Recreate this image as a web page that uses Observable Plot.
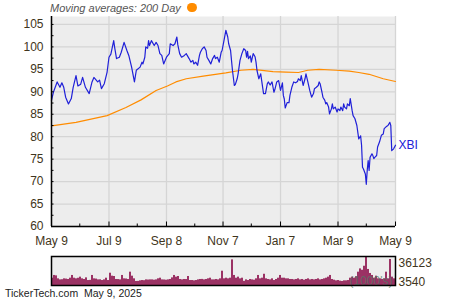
<!DOCTYPE html>
<html><head><meta charset="utf-8">
<script src="https://cdn.jsdelivr.net/npm/d3@7"></script>
<script src="https://cdn.jsdelivr.net/npm/@observablehq/plot@0.6"></script>
<style>
body{margin:0;background:#fff;}
#wrap{position:relative;width:450px;height:300px;overflow:hidden;font-family:"Liberation Sans",Arial,sans-serif;}
#wrap svg{position:absolute;left:0;}
.title{position:absolute;left:50px;top:3px;font-size:11px;line-height:11px;font-style:italic;color:#555;white-space:nowrap;}
.dot{position:absolute;left:187px;top:2.5px;width:9.5px;height:9.5px;border-radius:50%;background:#ff8c00;}
.footer{position:absolute;left:5px;top:288px;font-size:10.5px;line-height:10.5px;color:#222;white-space:pre;}
</style></head>
<body><div id="wrap">
<div class="title">Moving averages: 200 Day</div>
<div class="dot"></div>
<div class="footer">TickerTech.com  May 9, 2025</div>
</div>
<script>
const priceDates = ["2024-05-09","2024-05-11","2024-05-15","2024-05-18","2024-05-20","2024-05-22","2024-05-24","2024-05-27","2024-05-30","2024-06-01",
"2024-06-04","2024-06-06","2024-06-09","2024-06-11","2024-06-14","2024-06-18","2024-06-21","2024-06-23","2024-06-27","2024-06-29",
"2024-07-01","2024-07-04","2024-07-07","2024-07-09","2024-07-11","2024-07-14","2024-07-15","2024-07-17","2024-07-20","2024-07-22",
"2024-07-25","2024-07-28","2024-07-30","2024-08-02","2024-08-05","2024-08-07","2024-08-11","2024-08-13","2024-08-14","2024-08-16",
"2024-08-17","2024-08-19","2024-08-20","2024-08-21","2024-08-23","2024-08-26","2024-08-28","2024-08-30","2024-09-01","2024-09-03",
"2024-09-05","2024-09-08","2024-09-11","2024-09-12","2024-09-15","2024-09-17","2024-09-19","2024-09-20","2024-09-22","2024-09-24",
"2024-09-27","2024-09-29","2024-09-30","2024-10-02","2024-10-04","2024-10-06","2024-10-07","2024-10-09","2024-10-11","2024-10-13",
"2024-10-14","2024-10-16","2024-10-18","2024-10-20","2024-10-21","2024-10-23","2024-10-25","2024-10-27","2024-10-29","2024-10-30",
"2024-11-01","2024-11-03","2024-11-05","2024-11-06","2024-11-08","2024-11-10","2024-11-12","2024-11-13","2024-11-15","2024-11-16",
"2024-11-17","2024-11-19","2024-11-20","2024-11-22","2024-11-23","2024-11-25","2024-11-27","2024-11-29","2024-12-01","2024-12-02",
"2024-12-03","2024-12-04","2024-12-06","2024-12-07","2024-12-09","2024-12-11","2024-12-12","2024-12-13","2024-12-15","2024-12-17",
"2024-12-18","2024-12-20","2024-12-22","2024-12-24","2024-12-25","2024-12-27","2024-12-29","2024-12-31","2025-01-01","2025-01-03",
"2025-01-05","2025-01-07","2025-01-09","2025-01-10","2025-01-11","2025-01-12","2025-01-14","2025-01-16","2025-01-17","2025-01-19",
"2025-01-21","2025-01-23","2025-01-25","2025-01-26","2025-01-28","2025-01-29","2025-01-31","2025-02-02","2025-02-03","2025-02-05",
"2025-02-07","2025-02-09","2025-02-11","2025-02-12","2025-02-14","2025-02-16","2025-02-17","2025-02-18","2025-02-20","2025-02-21",
"2025-02-23","2025-02-24","2025-02-25","2025-02-27","2025-02-28","2025-03-02","2025-03-03","2025-03-04","2025-03-06","2025-03-08",
"2025-03-09","2025-03-11","2025-03-12","2025-03-14","2025-03-15","2025-03-16","2025-03-18","2025-03-19","2025-03-21","2025-03-22",
"2025-03-24","2025-03-25","2025-03-27","2025-03-29","2025-03-31","2025-04-02","2025-04-03","2025-04-04","2025-04-05","2025-04-07",
"2025-04-08","2025-04-09","2025-04-10","2025-04-11","2025-04-12","2025-04-14","2025-04-15","2025-04-16","2025-04-17","2025-04-19",
"2025-04-20","2025-04-22","2025-04-24","2025-04-26","2025-04-27","2025-04-29","2025-05-01","2025-05-03","2025-05-04","2025-05-05",
"2025-05-07","2025-05-09"];
const priceValues = [88.1,89.9,92.2,91.0,92.0,91.0,88.8,87.3,88.5,91.0,
93.6,91.3,91.7,93.2,91.0,89.6,92.2,93.2,92.2,92.6,
90.7,91.8,94.4,97.7,98.4,101.4,99.9,97.4,97.7,98.8,
101.0,99.2,98.1,95.5,92.2,94.8,95.5,96.6,96.2,97.7,
100.0,99.7,101.4,100.3,101.4,100.3,101.0,100.3,98.5,98.1,
96.2,97.7,98.5,100.7,100.3,100.7,102.2,100.5,98.5,97.7,
98.1,98.5,98.1,97.4,96.6,97.0,96.2,96.6,95.9,98.1,
98.8,99.6,100.0,99.2,97.7,97.0,96.2,97.4,98.1,97.4,
97.7,96.6,98.8,99.2,101.4,103.7,102.2,100.7,99.2,97.0,
94.8,91.4,91.6,92.9,94.0,97.0,98.5,99.6,99.2,97.7,
99.0,97.4,98.0,96.6,98.5,97.8,96.6,94.8,92.9,94.0,
92.5,89.6,89.6,91.8,92.2,91.5,92.2,89.9,90.5,92.2,
92.5,90.3,92.0,89.2,88.4,86.4,87.6,87.6,89.2,91.0,
92.2,92.0,92.3,92.9,92.5,93.6,91.4,92.9,94.0,92.2,
90.3,88.8,89.6,90.7,91.0,91.4,92.2,91.8,89.9,88.8,
88.1,87.3,87.6,86.6,85.1,86.2,87.3,86.2,86.6,85.5,
86.2,85.8,86.6,85.8,87.3,86.6,86.2,87.3,86.9,88.5,
85.8,84.7,84.0,82.5,79.5,80.2,78.1,73.2,72.8,71.7,
69.4,72.5,74.7,72.5,75.4,76.2,75.8,75.1,75.4,75.8,
77.7,78.8,80.3,80.6,81.8,82.2,82.5,83.2,82.5,76.9,
77.3,78.1];
const maDates = ["2024-05-09","2024-06-04","2024-07-07","2024-07-27","2024-08-12","2024-08-28","2024-09-09","2024-09-18","2024-09-29","2024-10-17",
"2024-11-10","2024-11-26","2024-12-09","2024-12-30","2025-01-13","2025-01-26","2025-02-05","2025-02-17","2025-03-07","2025-03-21",
"2025-03-31","2025-04-11","2025-04-26","2025-05-09"];
const maValues = [82.4,83.2,84.7,86.5,88.2,90.3,91.3,92.2,92.9,93.5,
94.2,94.8,95.0,94.5,94.4,94.3,94.8,95.0,94.8,94.6,
94.3,93.9,92.9,92.3];
const volumeValues = [9100,12500,12000,8300,7000,7200,8300,8000,7500,9100,
12500,9100,8300,9000,10400,8300,7500,9500,6200,6400,
12500,8300,8000,7000,7100,6200,7000,9100,6200,15300,
11600,11200,7500,7400,7000,12500,8300,8100,7500,16600,
11600,8300,5000,5100,5800,6200,6000,7000,6800,7000,
7000,6600,7000,8300,9100,7000,6900,6600,7000,7500,
9500,12500,10400,11200,7500,7000,7500,7400,11200,6200,
6200,5800,6200,7000,7500,7600,7000,7500,8300,9100,
7000,7000,7500,7000,8300,17800,8300,9100,8300,9100,
31900,12500,9100,10400,8300,9100,5200,7000,6200,7500,
7000,6600,8300,12500,8300,9100,14000,8300,7500,7000,
8300,6200,7500,9100,12500,9100,9100,8300,8300,7500,
7500,7000,7500,8300,7000,7500,6600,7500,8300,7000,
7500,7000,7500,8300,7000,7500,8300,9100,10400,12500,
7500,6600,5800,6200,5400,5000,5800,5800,6200,9100,
10400,9100,11000,16600,20700,19000,24000,36123,20000,15000,
12500,9100,11600,8300,8300,7500,8300,16600,8300,32400,
10400,8300];
const volumeLabels = [36123, 3540];
const xTickDates = ["2024-05-09","2024-07-09","2024-09-08","2024-11-07","2025-01-07","2025-03-09","2025-05-09"];
const xTickLabels = ["May 9","Jul 9","Sep 8","Nov 7","Jan 7","Mar 9","May 9"];
const xMinorDates = ["2024-06-08","2024-08-08","2024-10-08","2024-12-07","2025-02-07","2025-04-08"];
const yTicks = [60,65,70,75,80,85,90,95,100,105];
const yMinorTicks = [62.5,67.5,72.5,77.5,82.5,87.5,92.5,97.5,102.5];
const yTop = 106.77;
const seriesName = "XBI";
const volumeUnit = "(1000's)";

const parse = d3.utcParse("%Y-%m-%d");
const price = priceDates.map((d,i)=>({date: parse(d), value: priceValues[i]}));
const ma = maDates.map((d,i)=>({date: parse(d), value: maValues[i]}));
const xTicks = xTickDates.map(parse);
const xMinor = xMinorDates.map(parse);
const labelMap = new Map(xTicks.map((d,i)=>[+d, xTickLabels[i]]));
const textColor = "#3f3520";
const blue = "#2020d8";
const font = "'Liberation Sans', Arial, sans-serif";

const main = Plot.plot({
  width: 450, height: 250,
  marginLeft: 51, marginRight: 55, marginTop: 16, marginBottom: 24,
  style: {fontFamily: font, fontSize: "12px", background: "transparent", overflow: "visible"},
  x: {type: "utc", domain: [xTicks[0], xTicks[xTicks.length-1]]},
  y: {domain: [yTicks[0], yTop]},
  marks: [
    Plot.frame({fill: "#ededed", stroke: null}),
    Plot.gridX(xTicks, {stroke: "#d5d5d5", strokeOpacity: 1, strokeWidth: 1.3}),
    Plot.gridY(yTicks, {stroke: "#d5d5d5", strokeOpacity: 1, strokeWidth: 1.3}),
    Plot.line(ma, {x: "date", y: "value", stroke: "#ff8c00", strokeWidth: 1.2}),
    Plot.line(price, {x: "date", y: "value", stroke: blue, strokeWidth: 1.2}),
    Plot.text(price.slice(-1), {x: "date", y: "value", text: () => seriesName, dx: 3, textAnchor: "start", fill: blue, fontSize: 12}),
    Plot.ruleX([xTicks[0]], {stroke: "black", strokeWidth: 1.5}),
    Plot.ruleY([yTicks[0]], {stroke: "black", strokeWidth: 1.5}),
    Plot.axisY(yTicks, {tickSize: 0, tickPadding: 8, fill: textColor, label: null, fontSize: 12}),
    Plot.axisY(yTicks.concat(yMinorTicks), {tickSize: -2.5, fill: "none", stroke: "black", label: null}),
    Plot.axisX(xTicks, {tickSize: 0, tickPadding: 10, tickFormat: d => labelMap.get(+d), fill: textColor, label: null, fontSize: 12}),
    Plot.axisX(xTicks, {tickSize: -4.5, fill: "none", stroke: "black", label: null}),
    Plot.axisX(xMinor, {tickSize: -2.5, fill: "none", stroke: "black", label: null})
  ]
});
main.style.top = "0px";

const vol = Plot.plot({
  width: 450, height: 50,
  marginLeft: 51, marginRight: 55, marginTop: 6, marginBottom: 15,
  style: {fontFamily: font, fontSize: "12px", background: "transparent", overflow: "visible"},
  x: {type: "band", domain: d3.range(volumeValues.length), padding: 0, axis: null},
  y: {domain: [0, volumeLabels[0]], axis: null},
  marks: [
    Plot.frame({fill: "#ededed", stroke: null}),
    Plot.barY(volumeValues, {x: (d,i) => i, y: d => d, fill: "#9b3264", inset: 0}),
    Plot.text([volumeUnit], {text: d => d, frameAnchor: "bottom-right", dx: -3, dy: -1, lineAnchor: "bottom", fill: "#4f7a66", fillOpacity: 0.75, fontSize: 12}),
    Plot.frame({stroke: "black", strokeWidth: 1.5}),
    Plot.text([volumeLabels[0]], {y: d => d, text: d => String(d), frameAnchor: "right", dx: 3, dy: 7, textAnchor: "start", fill: textColor, fontSize: 12}),
    Plot.text([volumeLabels[1]], {y: d => d, text: d => String(d), frameAnchor: "right", dx: 3, dy: -1, textAnchor: "start", fill: textColor, fontSize: 12})
  ]
});
vol.style.top = "250px";

const wrap = document.getElementById("wrap");
wrap.insertBefore(vol, wrap.firstChild);
wrap.insertBefore(main, wrap.firstChild);
</script>
</body></html>
